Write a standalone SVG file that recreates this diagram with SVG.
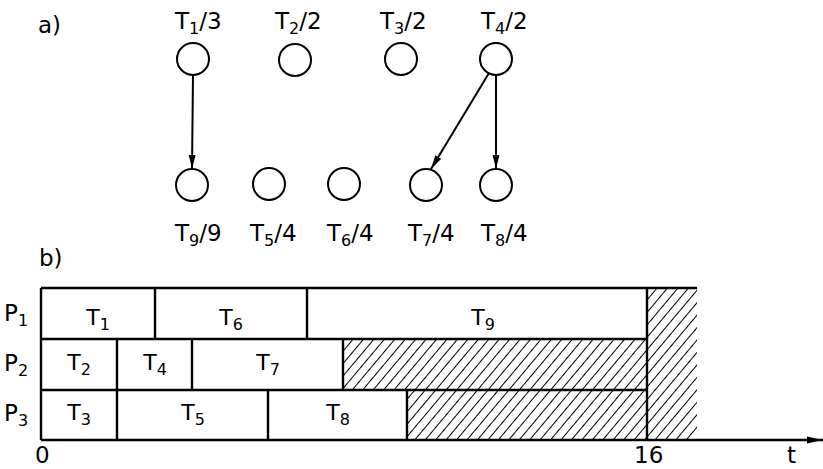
<svg xmlns="http://www.w3.org/2000/svg" width="823" height="469" viewBox="0 0 823 469">
<defs>
<style>
text{font-family:"DejaVu Sans","Liberation Sans",sans-serif;fill:#000;font-size:23px}
.sub{font-size:16px}
.n{fill:#fff;stroke:#000;stroke-width:2}
.e{stroke:#000;stroke-width:2;fill:none}
.g{font-size:22px;text-anchor:middle}
.ln{stroke:#000;stroke-width:2.4;fill:none}
</style>
<marker id="ah" viewBox="0 0 14 8" refX="14" refY="4" markerWidth="14" markerHeight="8" markerUnits="userSpaceOnUse" orient="auto">
<path d="M0,0.6 L14,4 L0,7.4 z" fill="#000"/>
</marker>
<marker id="ax" viewBox="0 0 16 8" refX="16" refY="4" markerWidth="16" markerHeight="8" markerUnits="userSpaceOnUse" orient="auto">
<path d="M0,0.5 L16,4 L0,7.5 z" fill="#000"/>
</marker>
<pattern id="hatch" patternUnits="userSpaceOnUse" width="8" height="8" patternTransform="rotate(40)">
<line x1="0" y1="-1" x2="0" y2="9" stroke="#000" stroke-width="2"/>
</pattern>
</defs>

<text x="38" y="33">a)</text>

<g id="connectors">
<line class="e" x1="193" y1="75" x2="192" y2="169" marker-end="url(#ah)"/>
<line class="e" x1="489" y1="73" x2="431" y2="169" marker-end="url(#ah)"/>
<line class="e" x1="496" y1="75" x2="496" y2="169" marker-end="url(#ah)"/>
</g>

<g id="T1"><circle class="n" cx="193" cy="59" r="16"/><text x="175" y="29">T<tspan class="sub" dy="5">1</tspan><tspan dy="-5">/3</tspan></text></g>
<g id="T2"><circle class="n" cx="295" cy="60" r="16"/><text x="275" y="29">T<tspan class="sub" dy="5">2</tspan><tspan dy="-5">/2</tspan></text></g>
<g id="T3"><circle class="n" cx="401" cy="59" r="16"/><text x="380" y="29">T<tspan class="sub" dy="5">3</tspan><tspan dy="-5">/2</tspan></text></g>
<g id="T4"><circle class="n" cx="496" cy="59" r="16"/><text x="481" y="29">T<tspan class="sub" dy="5">4</tspan><tspan dy="-5">/2</tspan></text></g>
<g id="T9"><circle class="n" cx="192" cy="185" r="16"/><text x="175" y="241">T<tspan class="sub" dy="5">9</tspan><tspan dy="-5">/9</tspan></text></g>
<g id="T5"><circle class="n" cx="269" cy="184" r="16"/><text x="250" y="241">T<tspan class="sub" dy="5">5</tspan><tspan dy="-5">/4</tspan></text></g>
<g id="T6"><circle class="n" cx="344" cy="184" r="16"/><text x="327" y="241">T<tspan class="sub" dy="5">6</tspan><tspan dy="-5">/4</tspan></text></g>
<g id="T7"><circle class="n" cx="426" cy="185" r="16"/><text x="408" y="241">T<tspan class="sub" dy="5">7</tspan><tspan dy="-5">/4</tspan></text></g>
<g id="T8"><circle class="n" cx="496" cy="185" r="16"/><text x="481" y="241">T<tspan class="sub" dy="5">8</tspan><tspan dy="-5">/4</tspan></text></g>

<text x="39" y="266">b)</text>

<g id="gantt">
<rect x="343" y="339" width="304" height="51" fill="url(#hatch)"/>
<rect x="407" y="390" width="240" height="50" fill="url(#hatch)"/>
<rect x="647" y="288" width="50" height="152" fill="url(#hatch)"/>
<path class="ln" d="M41,288 H697 M41,288 V440 M41,339 H647 M41,390 H647 M647,288 V440"/>
<path class="ln" d="M155,288 V339 M307,288 V339 M117,339 V390 M192,339 V390 M343,339 V390 M117,390 V440 M268,390 V440 M407,390 V440"/>
<line class="ln" x1="41" y1="440" x2="823" y2="440" marker-end="url(#ax)"/>

<text x="4" y="321">P<tspan class="sub" dy="5">1</tspan></text>
<text x="4" y="371">P<tspan class="sub" dy="5">2</tspan></text>
<text x="4" y="421">P<tspan class="sub" dy="5">3</tspan></text>

<text class="g" x="98" y="325">T<tspan class="sub" dy="5">1</tspan></text>
<text class="g" x="231" y="325">T<tspan class="sub" dy="5">6</tspan></text>
<text class="g" x="483" y="325">T<tspan class="sub" dy="5">9</tspan></text>
<text class="g" x="79" y="370">T<tspan class="sub" dy="5">2</tspan></text>
<text class="g" x="155" y="370">T<tspan class="sub" dy="5">4</tspan></text>
<text class="g" x="268" y="370">T<tspan class="sub" dy="5">7</tspan></text>
<text class="g" x="79" y="420">T<tspan class="sub" dy="5">3</tspan></text>
<text class="g" x="193" y="420">T<tspan class="sub" dy="5">5</tspan></text>
<text class="g" x="338" y="420">T<tspan class="sub" dy="5">8</tspan></text>

<text x="35" y="463">0</text>
<text x="634" y="463">16</text>
<text x="787" y="463">t</text>
</g>
</svg>
